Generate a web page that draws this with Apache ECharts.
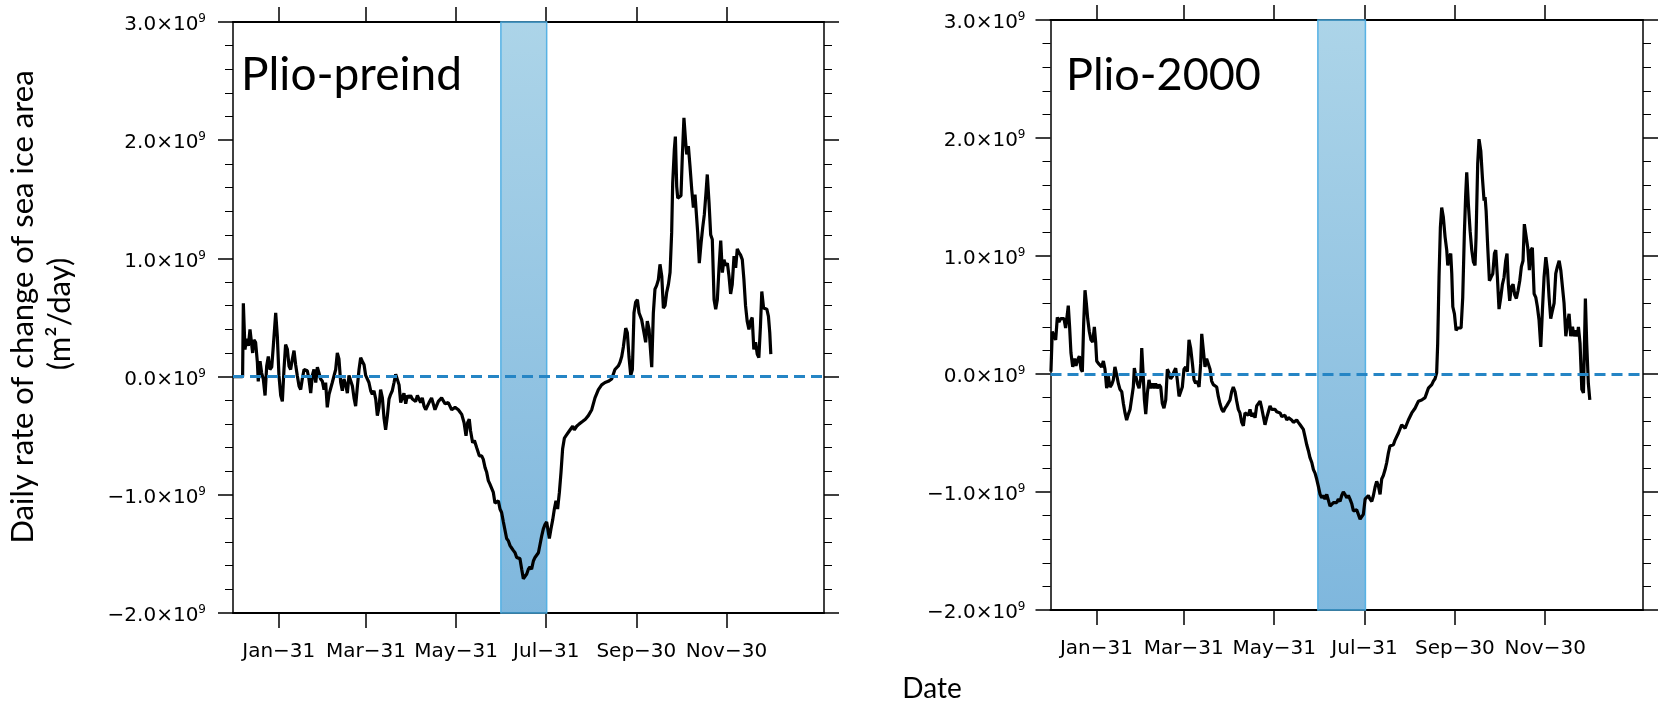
<!DOCTYPE html>
<html><head><meta charset="utf-8">
<script src="https://cdn.jsdelivr.net/npm/echarts@6/dist/echarts.min.js"></script>
<style>html,body{margin:0;padding:0;background:#fff}#c{width:1661px;height:703px}</style>
</head><body><div id="c"></div><script>
// ---- data (values in units of 1e9 m^2/day; x = day of year) ----
const tickDays = [31, 90, 151, 212, 273, 334];
const tickLabels = ['Jan\u221231', 'Mar\u221231', 'May\u221231', 'Jul\u221231', 'Sep\u221230', 'Nov\u221230'];
const panelTitles = ['Plio-preind', 'Plio-2000'];
const yTitleLines = ['Daily rate of change of sea ice area', '(m\u00b2/day)'];
const xTitle = 'Date';
const julyBandPreind = [181.3, 212.3];
const julyBand2000 = [180.5, 212.6];

const preindSeries = [[0,0],[6.5,0],[7.0,0.62],[8.1,0.23],[9.2,0.32],[10.4,0.26],[11.5,0.40],[12.6,0.41],[13.3,0.20],[14.2,0.31],[15.3,0.29],[16.5,0.12],[17.1,-0.04],[18.3,0.13],[19.4,0.03],[20.5,-0.02],[21.7,-0.16],[22.8,0.09],[23.9,0.17],[25.0,0.06],[26.2,0.08],[27.3,0.26],[28.9,0.54],[30.0,0.34],[31.1,0.01],[32.3,-0.16],[33.4,-0.21],[34.5,0.06],[35.6,0.27],[36.8,0.23],[37.9,0.09],[39.0,0.06],[40.2,0.15],[41.3,0.22],[42.4,0.10],[43.5,0.01],[44.7,-0.08],[45.8,-0.11],[46.9,-0.02],[48.1,0.06],[49.2,0.06],[50.3,0.05],[51.4,-0.02],[52.6,-0.14],[53.7,0.01],[54.8,0.06],[56.0,-0.05],[57.1,0.08],[58.2,0.08],[59.3,-0.02],[60.5,-0.04],[61.6,-0.11],[62.7,-0.05],[63.8,-0.26],[65.0,-0.15],[66.1,-0.16],[67.2,-0.05],[68.4,-0.05],[69.5,0.06],[70.6,0.20],[71.7,0.15],[72.9,-0.05],[74.0,-0.12],[75.1,-0.02],[76.3,-0.07],[77.4,-0.14],[78.5,0.01],[79.6,0.02],[80.8,-0.08],[81.9,-0.18],[83.0,-0.25],[84.2,-0.08],[85.3,0.06],[86.4,0.16],[87.5,0.13],[88.7,0.10],[89.8,0.01],[90.9,0.01],[92.0,-0.05],[93.2,-0.12],[94.3,-0.15],[95.4,-0.12],[96.6,-0.19],[97.7,-0.33],[98.8,-0.26],[99.9,-0.11],[101.1,-0.18],[102.2,-0.35],[103.3,-0.45],[104.5,-0.33],[105.6,-0.19],[106.7,-0.15],[107.8,-0.12],[109.0,-0.05],[110.1,0.02],[111.2,0.01],[112.4,-0.07],[113.5,-0.22],[114.6,-0.18],[115.7,-0.14],[116.9,-0.23],[118.0,-0.16],[119.1,-0.18],[120.2,-0.16],[121.4,-0.19],[122.5,-0.18],[123.6,-0.21],[124.8,-0.16],[125.9,-0.19],[127.0,-0.22],[128.1,-0.18],[129.3,-0.25],[130.4,-0.28],[131.5,-0.29],[132.7,-0.22],[134.4,-0.18],[136.7,-0.28],[139.0,-0.21],[141.2,-0.18],[143.5,-0.23],[145.7,-0.22],[148.0,-0.28],[150.3,-0.26],[152.5,-0.28],[154.8,-0.32],[156.4,-0.39],[157.7,-0.50],[158.8,-0.39],[159.9,-0.36],[160.8,-0.46],[162.2,-0.56],[163.4,-0.54],[164.9,-0.60],[166.7,-0.67],[168.3,-0.67],[169.4,-0.70],[170.6,-0.77],[171.7,-0.81],[172.8,-0.88],[173.9,-0.91],[175.0,-0.92],[176.2,-0.98],[177.3,-1.07],[178.5,-1.08],[179.6,-1.05],[180.7,-1.12],[181.8,-1.15],[183.0,-1.23],[184.1,-1.30],[185.2,-1.37],[186.4,-1.39],[187.5,-1.43],[188.6,-1.45],[189.7,-1.47],[190.9,-1.49],[192.0,-1.53],[193.1,-1.54],[194.2,-1.54],[195.4,-1.63],[196.5,-1.71],[197.6,-1.70],[198.8,-1.67],[199.9,-1.63],[201.0,-1.61],[202.1,-1.63],[203.3,-1.56],[204.4,-1.53],[205.5,-1.54],[206.7,-1.49],[207.8,-1.42],[208.9,-1.35],[210.0,-1.29],[211.2,-1.25],[212.3,-1.23],[214.1,-1.37],[215.2,-1.29],[216.4,-1.21],[217.5,-1.12],[218.6,-1.05],[219.7,-1.12],[220.9,-0.98],[222.0,-0.81],[223.1,-0.61],[224.3,-0.52],[225.4,-0.50],[226.5,-0.50],[227.6,-0.46],[228.8,-0.47],[229.9,-0.42],[231.0,-0.45],[232.6,-0.42],[234.4,-0.40],[236.5,-0.38],[238.5,-0.36],[240.5,-0.33],[242.8,-0.28],[245.0,-0.18],[247.3,-0.11],[249.5,-0.07],[251.8,-0.05],[254.0,-0.04],[256.3,-0.02],[257.4,0.02],[258.5,0.06],[260.8,0.09],[261.9,0.12],[263.1,0.17],[264.2,0.25],[265.8,0.41],[266.9,0.37],[268.0,0.17],[269.2,0.01],[270.3,0.06],[271.4,0.54],[272.5,0.63],[273.7,0.65],[274.8,0.54],[276.6,0.48],[278.2,0.37],[279.3,0.29],[280.4,0.47],[281.6,0.40],[282.7,0.20],[283.4,0.08],[284.5,0.54],[285.6,0.74],[286.7,0.77],[287.9,0.82],[289.0,0.95],[290.2,0.85],[291.3,0.58],[292.4,0.60],[293.5,0.71],[294.7,0.78],[295.8,0.88],[296.9,1.22],[297.6,1.64],[298.7,1.92],[299.4,2.03],[300.3,1.61],[301.0,1.51],[302.1,1.50],[303.2,1.53],[304.1,1.86],[305.2,2.19],[306.4,1.98],[307.1,1.88],[308.2,1.95],[309.3,1.78],[310.5,1.58],[311.6,1.43],[312.7,1.54],[313.4,1.54],[314.5,1.22],[315.6,0.96],[316.8,1.13],[317.9,1.26],[319.0,1.37],[320.1,1.55],[321.0,1.71],[322.2,1.47],[323.3,1.20],[324.4,1.16],[325.6,0.65],[326.7,0.57],[327.8,0.65],[328.9,0.91],[330.1,1.15],[331.2,0.88],[332.3,0.99],[333.4,0.94],[334.6,0.96],[335.7,0.85],[336.8,0.70],[337.9,0.78],[339.1,1.02],[340.2,0.92],[341.3,1.08],[342.4,1.05],[343.5,1.03],[344.7,0.99],[345.8,0.82],[346.9,0.60],[348.0,0.47],[349.2,0.40],[350.3,0.47],[351.4,0.50],[352.5,0.23],[353.7,0.29],[354.8,0.19],[355.9,0.16],[357.0,0.43],[357.9,0.72],[359.1,0.58],[360.2,0.57],[361.3,0.57],[362.4,0.51],[363.3,0.37],[364.0,0.19]];

const p2000Series = [[0.3,0.02],[1.2,0.36],[2.4,0.37],[3.5,0.29],[4.6,0.48],[5.7,0.44],[6.9,0.47],[8.0,0.46],[9.1,0.47],[10.2,0.39],[11.4,0.51],[12.0,0.58],[12.9,0.40],[13.8,0.18],[15.0,0.06],[16.1,0.13],[17.2,0.07],[18.3,0.12],[19.5,0.15],[20.6,0.04],[21.5,0.02],[22.4,0.43],[23.3,0.71],[24.2,0.60],[25.1,0.47],[26.2,0.36],[27.3,0.29],[28.5,0.27],[29.6,0.40],[30.5,0.27],[31.2,0.11],[32.3,0.09],[33.4,0.08],[34.5,0.06],[35.7,0.11],[36.8,0.04],[37.9,-0.12],[39.0,-0.02],[40.2,-0.11],[41.3,-0.09],[42.4,-0.05],[43.5,0.06],[44.7,-0.01],[45.8,-0.08],[46.9,-0.13],[48.1,-0.15],[49.2,-0.25],[50.3,-0.33],[51.4,-0.39],[52.6,-0.34],[53.7,-0.30],[54.8,-0.29],[55.9,-0.11],[56.6,0.05],[57.5,-0.01],[58.6,-0.08],[59.8,-0.12],[60.9,-0.04],[61.6,0.22],[62.5,0.01],[63.4,-0.22],[64.3,-0.34],[65.4,-0.16],[66.5,-0.05],[67.6,-0.12],[68.8,-0.08],[69.9,-0.12],[71.0,-0.08],[72.1,-0.12],[73.3,-0.09],[74.4,-0.11],[75.5,-0.25],[76.6,-0.29],[77.8,-0.22],[78.9,0.04],[80.0,0.01],[81.1,-0.04],[82.3,-0.02],[83.4,0.02],[84.5,0.05],[85.6,-0.05],[86.8,-0.19],[87.9,-0.20],[89.0,-0.11],[90.1,0.04],[91.3,0.06],[92.4,0.02],[93.5,0.29],[94.6,0.22],[95.8,0.09],[96.9,-0.05],[98.0,-0.08],[99.1,-0.06],[100.3,-0.11],[101.4,0.09],[102.1,0.34],[103.2,0.20],[104.3,0.06],[105.4,0.13],[106.6,0.12],[107.7,0.04],[108.8,-0.06],[109.9,-0.09],[111.1,-0.08],[112.2,-0.11],[113.3,-0.19],[114.4,-0.25],[115.6,-0.30],[116.7,-0.32],[117.8,-0.29],[118.9,-0.27],[120.1,-0.26],[121.2,-0.22],[122.3,-0.15],[123.4,-0.11],[124.6,-0.15],[125.7,-0.23],[126.8,-0.30],[127.9,-0.33],[129.1,-0.41],[130.2,-0.44],[131.3,-0.33],[132.5,-0.32],[133.6,-0.35],[134.7,-0.30],[135.8,-0.36],[136.9,-0.33],[138.1,-0.37],[139.2,-0.27],[140.3,-0.26],[141.5,-0.23],[142.6,-0.29],[143.7,-0.36],[144.8,-0.43],[146.0,-0.37],[147.1,-0.32],[148.2,-0.27],[149.3,-0.30],[150.5,-0.29],[151.6,-0.30],[152.7,-0.32],[153.8,-0.32],[155.0,-0.33],[156.1,-0.36],[157.2,-0.37],[158.3,-0.35],[159.5,-0.39],[160.6,-0.37],[161.7,-0.36],[162.8,-0.39],[164.0,-0.41],[165.1,-0.40],[166.2,-0.39],[167.3,-0.41],[168.5,-0.43],[169.6,-0.44],[170.7,-0.47],[171.8,-0.53],[173.0,-0.60],[174.1,-0.65],[175.2,-0.71],[176.4,-0.75],[177.5,-0.81],[178.6,-0.84],[179.7,-0.89],[180.8,-0.95],[182.0,-1.02],[183.1,-1.05],[184.2,-1.03],[185.3,-1.06],[186.5,-1.02],[187.6,-1.03],[188.7,-1.12],[189.8,-1.13],[191.0,-1.09],[192.1,-1.08],[193.2,-1.09],[194.3,-1.06],[195.5,-1.08],[196.6,-1.03],[197.7,-1.00],[198.8,-1.02],[200.0,-1.05],[201.1,-1.03],[202.2,-1.06],[203.4,-1.10],[204.5,-1.16],[205.6,-1.17],[206.7,-1.15],[207.9,-1.16],[209.0,-1.23],[210.1,-1.24],[211.2,-1.19],[212.4,-1.06],[213.5,-1.05],[214.6,-1.03],[215.7,-1.06],[216.9,-1.08],[218.0,-1.03],[219.1,-0.96],[220.2,-0.91],[221.4,-0.95],[222.5,-1.02],[223.6,-0.89],[224.7,-0.86],[225.9,-0.81],[227.0,-0.75],[228.1,-0.67],[229.2,-0.61],[230.4,-0.61],[231.5,-0.60],[232.6,-0.56],[234.9,-0.50],[237.1,-0.43],[239.4,-0.46],[241.6,-0.39],[243.9,-0.33],[246.1,-0.29],[248.4,-0.23],[250.6,-0.22],[252.9,-0.20],[254.0,-0.16],[255.1,-0.12],[257.4,-0.09],[258.5,-0.06],[259.6,-0.04],[260.7,0.01],[261.4,0.26],[262.3,0.82],[263.2,1.24],[264.1,1.41],[265.2,1.33],[266.4,1.16],[267.5,1.05],[268.2,0.92],[269.1,0.99],[270.2,1.02],[270.9,0.85],[271.6,0.57],[272.7,0.51],[273.8,0.37],[274.9,0.39],[276.0,0.40],[277.2,0.39],[278.3,0.65],[279.4,1.19],[280.3,1.52],[281.0,1.71],[282.1,1.44],[283.3,1.21],[284.4,1.05],[285.5,0.95],[286.6,0.92],[287.3,1.16],[288.4,1.78],[289.3,1.99],[290.5,1.89],[291.6,1.66],[292.7,1.47],[293.4,1.50],[294.1,1.38],[295.2,1.07],[296.3,0.79],[297.4,0.82],[298.6,0.85],[299.7,1.02],[300.6,1.05],[301.7,0.82],[302.8,0.55],[304.0,0.65],[305.1,0.76],[306.2,0.82],[307.3,0.96],[308.2,1.02],[309.1,0.76],[310.0,0.62],[311.2,0.74],[312.3,0.76],[313.4,0.67],[314.5,0.64],[315.7,0.71],[316.8,0.79],[317.9,0.91],[319.0,0.96],[319.9,1.27],[321.0,1.27],[322.2,1.07],[323.3,0.88],[324.4,1.05],[325.3,1.07],[326.5,0.68],[327.6,0.65],[328.7,0.57],[329.8,0.46],[331.0,0.23],[332.1,0.54],[333.2,0.82],[334.4,0.99],[335.5,0.88],[336.6,0.65],[337.7,0.47],[338.9,0.54],[340.0,0.60],[341.1,0.85],[342.2,0.91],[343.4,0.96],[344.5,0.88],[345.6,0.74],[346.7,0.60],[347.9,0.32],[349.0,0.43],[350.1,0.51],[351.2,0.32],[352.4,0.40],[353.5,0.32],[354.6,0.37],[355.7,0.32],[356.4,0.40],[357.5,0.26],[358.7,-0.13],[359.8,-0.16],[360.5,0.26],[361.1,0.64],[362.0,0.26],[363.1,-0.08],[364.1,-0.22]];

// ---- chart ----
const FONT = 'DejaVu Sans';
const TFONT = 'Lato';
const grids = [
  {left: 233, top: 22, width: 591, height: 591},
  {left: 1050.5, top: 20, width: 592.5, height: 590}
];
function yLabel(v) {
  const s = (v < 0 ? '\u2212' : '') + Math.abs(v).toFixed(1) + '\u00d710';
  return '{n|' + s + '}{s|9}';
}
function xAxes(gi) {
  const base = {
    type: 'value', gridIndex: gi, min: 0, max: 400,
    splitLine: {show: false},
    axisLine: {show: true, onZero: false, lineStyle: {color: '#000', width: 2}},
    axisTick: {show: true, customValues: tickDays, length: 15, lineStyle: {color: '#000', width: 1.5}}
  };
  return [
    Object.assign({}, base, {position: 'bottom',
      axisLabel: {customValues: tickDays, margin: 29, fontFamily: FONT, fontSize: 20, color: '#000',
        formatter: v => tickLabels[tickDays.indexOf(v)]}}),
    Object.assign({}, base, {position: 'top', axisLabel: {show: false}})
  ];
}
function yAxes(gi) {
  const base = {
    type: 'value', gridIndex: gi, min: -2, max: 3, interval: 1,
    splitLine: {show: false}, minorSplitLine: {show: false},
    axisLine: {show: true, onZero: false, lineStyle: {color: '#000', width: 1.5}},
    axisTick: {show: true, length: 15, lineStyle: {color: '#000', width: 1.5}},
    minorTick: {show: true, splitNumber: 5, length: 8, lineStyle: {color: '#000', width: 1}}
  };
  return [
    Object.assign({}, base, {position: 'left',
      axisLabel: {margin: 27 - gi * 2, formatter: yLabel, padding: [6, 0, 0, 0],
        rich: {
          n: {fontFamily: FONT, fontSize: 20, color: '#000', lineHeight: 24},
          s: {fontFamily: FONT, fontSize: 12, color: '#000', lineHeight: 13, verticalAlign: 'top'}
        }}}),
    Object.assign({}, base, {position: 'right', axisLabel: {show: false}})
  ];
}
function panelSeries(gi, data, band) {
  const xi = gi * 2, yi = gi * 2;
  return [
    {type: 'line', xAxisIndex: xi, yAxisIndex: yi, data: data, showSymbol: false, symbol: 'none',
     lineStyle: {color: '#000', width: 3.2}, z: 2, silent: true},
    {type: 'line', xAxisIndex: xi, yAxisIndex: yi, data: [], z: 3, silent: true,
     markLine: {silent: true, symbol: 'none', label: {show: false},
       lineStyle: {color: '#2585c5', width: 2.8, type: [11, 6]}, data: [{yAxis: 0}]}},
    {type: 'line', xAxisIndex: xi, yAxisIndex: yi, data: [], z: 4, silent: true,
     markArea: {silent: true, label: {show: false},
       itemStyle: {
         color: new echarts.graphic.LinearGradient(0, 0, 0, 1, [
           {offset: 0, color: 'rgba(90,170,210,0.5)'},
           {offset: 1, color: 'rgba(0,112,188,0.5)'}
         ]),
         borderColor: 'rgba(80,175,228,0.95)', borderWidth: 1.5
       },
       data: [[{xAxis: band[0]}, {xAxis: band[1]}]]}}
  ];
}
const chart = echarts.init(document.getElementById('c'), null, {renderer: 'canvas'});
chart.setOption({
  animation: false,
  backgroundColor: '#fff',
  grid: grids,
  xAxis: [...xAxes(0), ...xAxes(1)],
  yAxis: [...yAxes(0), ...yAxes(1)],
  series: [...panelSeries(0, preindSeries, julyBandPreind), ...panelSeries(1, p2000Series, julyBand2000)],
  graphic: [
    {type: 'text', x: 241, y: 75, silent: true,
     style: {text: panelTitles[0], font: '46px "' + TFONT + '"', fill: '#000', textVerticalAlign: 'middle'}},
    {type: 'text', x: 1066, y: 75, silent: true,
     style: {text: panelTitles[1], font: '45px "' + TFONT + '"', fill: '#000', textVerticalAlign: 'middle'}},
    {type: 'text', x: 23, y: 307, rotation: Math.PI / 2, silent: true,
     style: {text: yTitleLines[0], font: '31px "' + TFONT + '"', fill: '#000', textAlign: 'center', textVerticalAlign: 'middle'}},
    {type: 'text', x: 60, y: 314, rotation: Math.PI / 2, silent: true,
     style: {text: yTitleLines[1], font: '31px "' + TFONT + '"', fill: '#000', textAlign: 'center', textVerticalAlign: 'middle'}},
    {type: 'text', x: 932, y: 689, silent: true,
     style: {text: xTitle, font: '28px "' + TFONT + '"', fill: '#000', textAlign: 'center', textVerticalAlign: 'middle'}}
  ]
});
</script></body></html>
